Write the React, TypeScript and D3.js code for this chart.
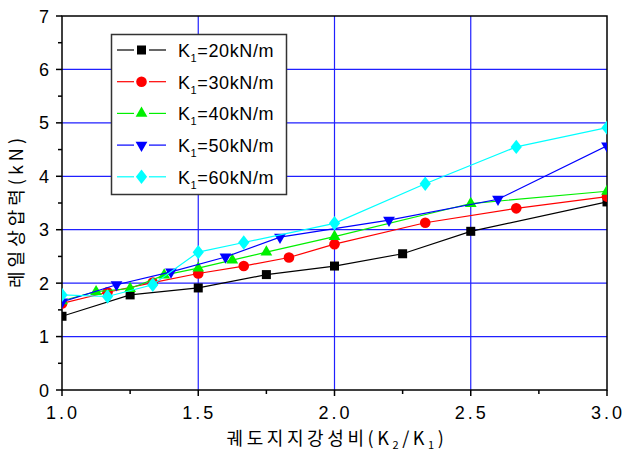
import React from "react";
import * as d3 from "d3";

const xTicks = [1.0, 1.5, 2.0, 2.5, 3.0];
const yTicks = [0, 1, 2, 3, 4, 5, 6, 7];

const k20X = [1.0, 1.25, 1.5, 1.75, 2.0, 2.25, 2.5, 3.0];
const k20Y = [1.38, 1.78, 1.91, 2.16, 2.32, 2.55, 2.97, 3.52];
const k30X = [1.0, 1.167, 1.333, 1.5, 1.667, 1.833, 2.0, 2.333, 2.667, 3.0];
const k30Y = [1.62, 1.83, 2.01, 2.18, 2.32, 2.48, 2.73, 3.13, 3.4, 3.62];
const k40X = [1.0, 1.125, 1.25, 1.375, 1.5, 1.625, 1.75, 2.0, 2.5, 3.0];
const k40Y = [1.67, 1.84, 1.9, 2.15, 2.28, 2.43, 2.58, 2.87, 3.49, 3.72];
const k50X = [1.0, 1.2, 1.4, 1.6, 1.8, 2.2, 2.6, 3.0];
const k50Y = [1.65, 1.97, 2.21, 2.49, 2.86, 3.18, 3.57, 4.57];
const k60X = [1.0, 1.167, 1.333, 1.5, 1.667, 2.0, 2.333, 2.667, 3.0];
const k60Y = [1.78, 1.75, 1.97, 2.58, 2.76, 3.12, 3.86, 4.55, 4.91];

const seriesNames = ["20", "30", "40", "50", "60"];
const seriesColors = ["#000000", "#ff0000", "#00f000", "#0000ff", "#00ffff"];
const seriesShapes = ["square", "circle", "triangle", "triangleDown", "diamond"];

const series = [
  { x: k20X, y: k20Y },
  { x: k30X, y: k30Y },
  { x: k40X, y: k40Y },
  { x: k50X, y: k50Y },
  { x: k60X, y: k60Y },
];

const left = 62,
  right = 607,
  top = 16,
  bottom = 390;

const latin = "'Liberation Sans', Arial, sans-serif";
const korean = "'Noto Sans CJK KR', sans-serif";

function Marker({ shape, cx, cy, color }) {
  if (shape === "square")
    return <rect x={cx - 4.5} y={cy - 4.5} width={9} height={9} fill={color} />;
  if (shape === "circle") return <circle cx={cx} cy={cy} r={5.3} fill={color} />;
  const sym =
    shape === "diamond"
      ? d3.symbol(d3.symbolDiamond, 60)
      : d3.symbol(d3.symbolTriangle, 60);
  const rot = shape === "triangleDown" ? 180 : 0;
  const sc = shape === "diamond" ? "scale(1.35,1)" : "";
  return (
    <path
      d={sym() as string}
      transform={`translate(${cx},${cy}) rotate(${rot}) ${sc}`}
      fill={color}
    />
  );
}

export default function App() {
  const x = d3.scaleLinear().domain([1, 3]).range([left, right]);
  const y = d3.scaleLinear().domain([0, 7]).range([bottom, top]);
  const line = d3
    .line<number[]>()
    .x((d) => x(d[0]))
    .y((d) => y(d[1]));

  const xMinor = d3.range(1, 3.001, 0.25);
  const yMinor = d3.range(0, 7.001, 0.5);

  return (
    <svg
      width={624}
      height={454}
      style={{ position: "absolute", left: 0, top: 0, background: "#fff" }}
    >
      <defs>
        <clipPath id="plot">
          <rect x={left} y={top} width={right - left} height={bottom - top} />
        </clipPath>
      </defs>

      {/* grid */}
      {yTicks
        .filter((t) => t > 0 && t < 7)
        .map((t) => (
          <line
            key={"gy" + t}
            x1={left}
            x2={right}
            y1={y(t)}
            y2={y(t)}
            stroke="#2020ff"
            strokeWidth={1.2}
          />
        ))}
      {xTicks
        .filter((t) => t > 1 && t < 3)
        .map((t) => (
          <line
            key={"gx" + t}
            x1={x(t)}
            x2={x(t)}
            y1={top}
            y2={bottom}
            stroke="#2020ff"
            strokeWidth={1.2}
          />
        ))}

      {/* frame */}
      <rect
        x={left}
        y={top}
        width={right - left}
        height={bottom - top}
        fill="none"
        stroke="#000"
        strokeWidth={1.5}
      />

      {/* ticks */}
      {yMinor.map((t) => (
        <line
          key={"ty" + t}
          x1={left}
          x2={left - (t % 1 === 0 ? 6 : 4)}
          y1={y(t)}
          y2={y(t)}
          stroke="#000"
          strokeWidth={1.5}
        />
      ))}
      {xMinor.map((t) => (
        <line
          key={"tx" + t}
          x1={x(t)}
          x2={x(t)}
          y1={bottom}
          y2={bottom + (t % 0.5 === 0 ? 6 : 4)}
          stroke="#000"
          strokeWidth={1.5}
        />
      ))}
      {yTicks.map((t) => (
        <text
          key={"ly" + t}
          x={49}
          y={y(t) + 6.5}
          textAnchor="end"
          fontFamily={latin}
          fontSize={18}
          fill="#000"
        >
          {t}
        </text>
      ))}
      {xTicks.map((t) => (
        <text
          key={"lx" + t}
          x={x(t) + 1}
          y={419}
          textAnchor="middle"
          fontFamily={latin}
          fontSize={18}
          letterSpacing={3}
          fill="#000"
        >
          {t.toFixed(1)}
        </text>
      ))}

      {/* axis titles */}
      <text
        transform="translate(23,211) rotate(-90)"
        textAnchor="middle"
        fontFamily={korean}
        fontSize={18}
        letterSpacing={4}
        fill="#000"
      >
        레일상압력(kN)
      </text>
      <text
        x={337}
        y={445}
        textAnchor="middle"
        fontFamily={korean}
        fontSize={18}
        letterSpacing={3.6}
        fill="#000"
      >
        궤도지지강성비(K
        <tspan fontSize={11} dy={4}>2</tspan>
        <tspan dy={-4}>/K</tspan>
        <tspan fontSize={11} dy={4}>1</tspan>
        <tspan dy={-4}>)</tspan>
      </text>

      {/* data */}
      <g clipPath="url(#plot)">
        {series.map((s, i) => {
          const pts = s.x.map((v, j) => [v, s.y[j]]);
          return (
            <g key={"s" + i}>
              <path
                d={line(pts) as string}
                fill="none"
                stroke={seriesColors[i]}
                strokeWidth={1.2}
              />
              {pts.map((p, j) => (
                <Marker
                  key={j}
                  shape={seriesShapes[i]}
                  cx={x(p[0])}
                  cy={y(p[1])}
                  color={seriesColors[i]}
                />
              ))}
            </g>
          );
        })}
      </g>

      {/* legend */}
      <rect
        x={111.5}
        y={34.5}
        width={175}
        height={160}
        fill="#fff"
        stroke="#333"
        strokeWidth={1.5}
      />
      {seriesNames.map((n, i) => {
        const ly = 50 + i * 31.7;
        return (
          <g key={"lg" + i}>
            <line x1={117} x2={134} y1={ly} y2={ly} stroke={seriesColors[i]} strokeWidth={1.2} />
            <line x1={149} x2={166} y1={ly} y2={ly} stroke={seriesColors[i]} strokeWidth={1.2} />
            <Marker shape={seriesShapes[i]} cx={141.5} cy={ly} color={seriesColors[i]} />
            <text
              x={178}
              y={ly + 7}
              fontFamily={latin}
              fontSize={18}
              letterSpacing={0.6}
              fill="#000"
            >
              K
              <tspan fontSize={11} dy={5}>1</tspan>
              <tspan dy={-5}>={n}kN/m</tspan>
            </text>
          </g>
        );
      })}
    </svg>
  );
}
